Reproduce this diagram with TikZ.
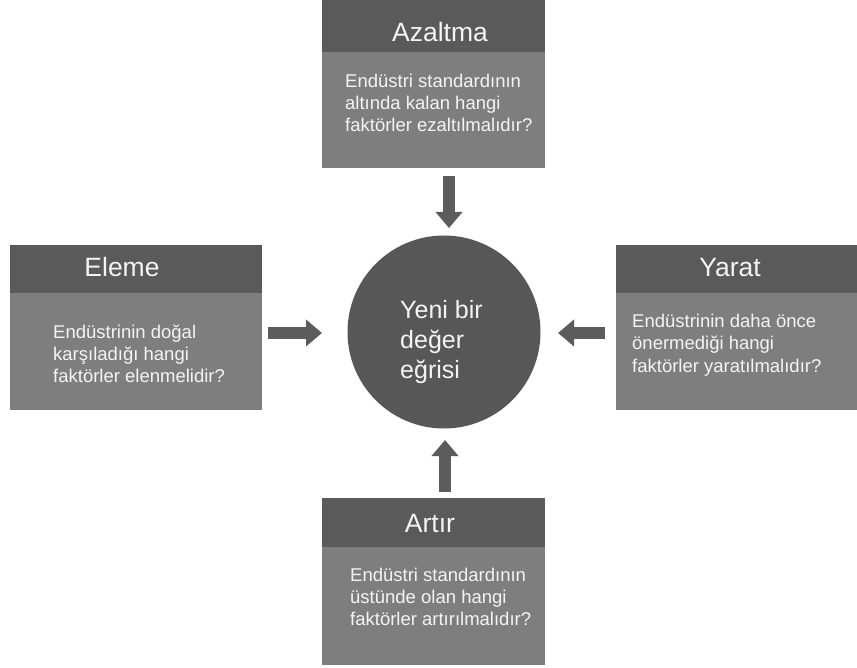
\documentclass[tikz,border=0pt]{standalone}
\usepackage{fontspec}
\setmainfont{Liberation Sans}
\usetikzlibrary{arrows.meta}
\definecolor{hdr}{HTML}{5A5A5A}
\definecolor{bdy}{HTML}{7E7E7E}
\definecolor{circ}{HTML}{575757}
\definecolor{arr}{HTML}{5C5C5C}
\definecolor{txt}{HTML}{F4F4F4}
\begin{document}
\begin{tikzpicture}[x=1pt,y=-1pt,
  hdrbox/.style={fill=hdr, anchor=north west, inner sep=0pt, minimum height=52pt},
  bdybox/.style={fill=bdy, anchor=north west, inner sep=0pt},
  hdrtext/.style={anchor=base, text=txt, font=\fontsize{26.5}{30}\selectfont, inner sep=0pt},
  bodytext/.style={anchor=base west, align=left, text=txt, font=\fontsize{18.5}{22}\selectfont, inner sep=0pt},
  circtext/.style={anchor=base west, align=left, text=txt, font=\fontsize{25}{30}\selectfont, inner sep=0pt},
  bigarrow/.style={draw=arr, line width=12pt, -{Triangle[width=26pt,length=16pt]}}
]
\useasboundingbox (0,0) rectangle (857,668);
\fill[white] (0,0) rectangle (857,668);

% top box
\node[hdrbox, minimum width=223pt] (tophdr) at (322,0) {};
\node[bdybox, minimum width=223pt, minimum height=116pt] (topbox) at (322,52) {};
\node[hdrtext] (toptitle) at (440,42) {Azaltma};
\node[bodytext] (toptext) at (345,132) {Endüstri standardının\\altında kalan hangi\\faktörler ezaltılmalıdır?};

% left box
\node[hdrbox, minimum width=252pt, minimum height=48pt] (lefthdr) at (10,245) {};
\node[bdybox, minimum width=252pt, minimum height=117pt] (leftbox) at (10,293) {};
\node[hdrtext] (lefttitle) at (122,277) {Eleme};
\node[bodytext] (lefttext) at (53,382) {Endüstrinin doğal\\karşıladığı hangi\\faktörler elenmelidir?};

% right box
\node[hdrbox, minimum width=241pt, minimum height=48pt] (righthdr) at (616,245) {};
\node[bdybox, minimum width=241pt, minimum height=117pt] (rightbox) at (616,293) {};
\node[hdrtext] (righttitle) at (730,277) {Yarat};
\node[bodytext] (righttext) at (632,372) {Endüstrinin daha önce\\önermediği hangi\\faktörler yaratılmalıdır?};

% bottom box
\node[hdrbox, minimum width=223pt, minimum height=49pt] (bothdr) at (322,498) {};
\node[bdybox, minimum width=223pt, minimum height=118pt] (botbox) at (322,547) {};
\node[hdrtext] (bottitle) at (430,532) {Artır};
\node[bodytext] (bottext) at (350,625) {Endüstri standardının\\üstünde olan hangi\\faktörler artırılmalıdır?};

% centre
\node[circle, fill=circ, minimum size=193pt, inner sep=0pt] (c) at (444,332) {};
\node[circtext] (ctext) at (400,378) {Yeni bir\\değer\\eğrisi};

% arrows
\coordinate (a1s) at (449,176);
\coordinate (a1e) at (449,228);
\coordinate (a2s) at (268,333);
\coordinate (a2e) at (322,333);
\coordinate (a3s) at (605,333);
\coordinate (a3e) at (558,333);
\coordinate (a4s) at (445,492);
\coordinate (a4e) at (445,440);
\draw[bigarrow] (a1s) -- (a1e);
\draw[bigarrow] (a2s) -- (a2e);
\draw[bigarrow] (a3s) -- (a3e);
\draw[bigarrow] (a4s) -- (a4e);
\end{tikzpicture}
\end{document}
